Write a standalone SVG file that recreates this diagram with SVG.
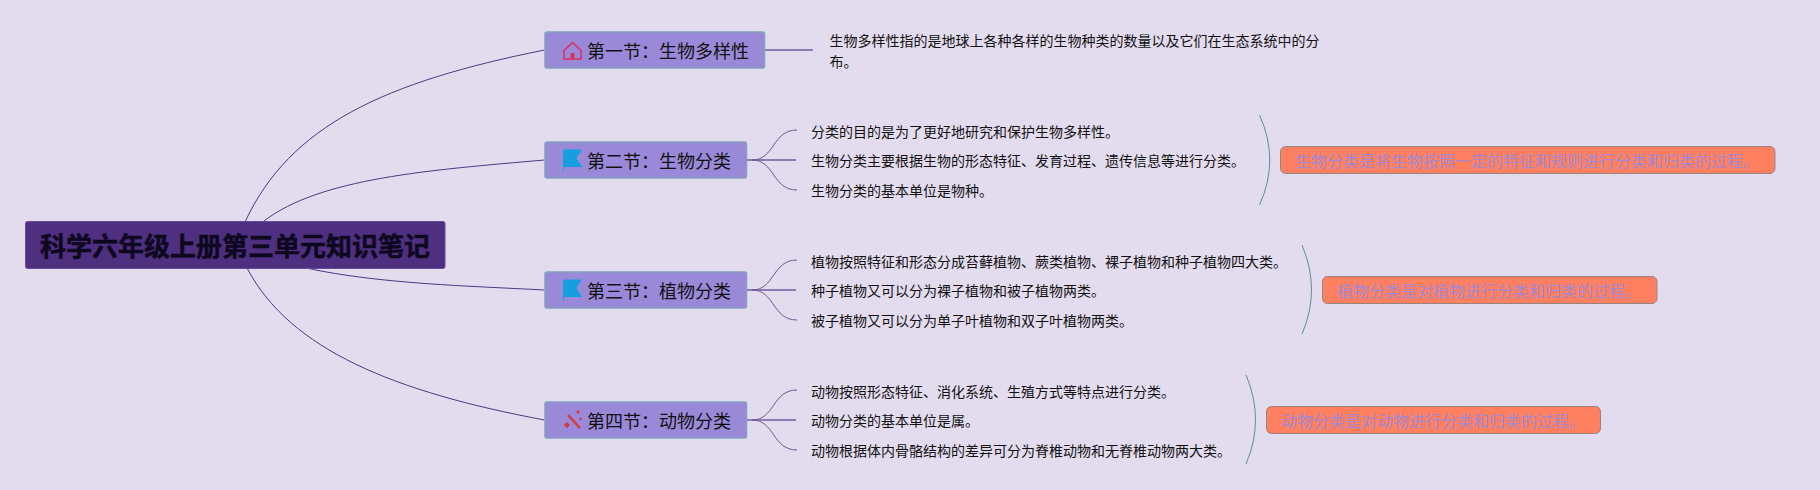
<svg xmlns="http://www.w3.org/2000/svg" width="1820" height="490" viewBox="0 0 1820 490">
<style>
text{font-family:"Noto Sans CJK SC","Noto Sans",sans-serif;fill:#111}
.root{fill:#4f2f80;stroke:#6a4a9a;stroke-width:1}
.sec{fill:#9a89d9;stroke:#86a0bd;stroke-width:1.5}
.sum{fill:#ff8060;stroke:#96857f;stroke-width:1}
.t0{font-size:26px;font-weight:700;fill:#0e0720;stroke:#0e0720;stroke-width:.5}
.t1{font-size:18px}
.t2{font-size:14px}
.t3{font-size:16px;fill:#a188d0}
.c0{fill:none;stroke:#4a3a80;stroke-width:1}
.c1{fill:none;stroke:#6f5a96;stroke-width:1}
.c2{fill:none;stroke:#8f7cb2;stroke-width:2}
.br{fill:none;stroke:#5f8f98;stroke-width:1}
</style>
<rect width="1820" height="490" fill="#e3dbee"/>
<g id="connectors">
<path class="c0" d="M245 222C290 125 385 82 544.500 50"/>
<path class="c0" d="M264 221C320 178 430 170 544.500 160"/>
<path class="c0" d="M306 268C380 284 470 286 544.500 290"/>
<path class="c0" d="M247 268C290 350 395 392 544.500 420"/>
<path class="c2" d="M764.500 50H813"/>
<path class="c2" d="M746.500 160H796"/>
<path class="c1" d="M752 160C775 160 772 130 797 130"/>
<path class="c1" d="M752 160C775 160 772 190 797 190"/>
<path class="c2" d="M746.500 290H796"/>
<path class="c1" d="M752 290C775 290 772 260 797 260"/>
<path class="c1" d="M752 290C775 290 772 320 797 320"/>
<path class="c2" d="M746.500 420H796"/>
<path class="c1" d="M752 420C775 420 772 390 797 390"/>
<path class="c1" d="M752 420C775 420 772 450 797 450"/>
<path class="br" d="M1259.500 115Q1280 160 1259.500 205"/>
<path class="br" d="M1302 245Q1321 290 1302 334"/>
<path class="br" d="M1246 375Q1265 420 1246 464"/>
</g>
<g id="root"><rect class="root" x="25.500" y="221.500" width="419.500" height="47" rx="2"/><text class="t0" x="40" y="256">科学六年级上册第三单元知识笔记</text></g>
<g id="s1"><rect class="sec" x="545" y="32" width="219.500" height="36" rx="2"/>
<path d="M564 50.500L572.500 42.500L581 50.500V59H564Z" fill="none" stroke="#d8305f" stroke-width="1.500"/><rect x="570.500" y="53" width="4" height="6" fill="#d8305f"/>
<text class="t1" x="587" y="57.500">第一节：生物多样性</text></g>
<g id="s2"><rect class="sec" x="545" y="142" width="201.500" height="36" rx="2"/>
<path d="M563 149.500H582L576.500 158L582 167H564V171H563Z" fill="#159fe0"/>
<text class="t1" x="587" y="167.500">第二节：生物分类</text></g>
<g id="s3"><rect class="sec" x="545" y="272" width="201.500" height="36" rx="2"/>
<path d="M563 279.500H582L576.500 288L582 297H564V301H563Z" fill="#159fe0"/>
<text class="t1" x="587" y="297.500">第三节：植物分类</text></g>
<g id="s4"><rect class="sec" x="545" y="402" width="201.500" height="36" rx="2"/>
<path d="M568 415L580 428" stroke="#d63a3a" stroke-width="2.500" fill="none"/><path d="M564 425l3-3 3 3-3 3zM576 412l2-2 2 2-2 2zM579 419l1.500-1.500 1.500 1.500-1.500 1.500z" fill="#d63a3a"/>
<text class="t1" x="587" y="427.500">第四节：动物分类</text></g>
<g id="n1"><text class="t2" x="829.500" y="46">生物多样性指的是地球上各种各样的生物种类的数量以及它们在生态系统中的分</text><text class="t2" x="829.500" y="67">布。</text></g>
<g id="n2a"><text class="t2" x="811" y="136.500">分类的目的是为了更好地研究和保护生物多样性。</text></g>
<g id="n2b"><text class="t2" x="811" y="166">生物分类主要根据生物的形态特征、发育过程、遗传信息等进行分类。</text></g>
<g id="n2c"><text class="t2" x="811" y="196">生物分类的基本单位是物种。</text></g>
<g id="n2s"><rect class="sum" x="1280.500" y="146.500" width="494.500" height="27" rx="5"/><text class="t3" x="1295" y="166.500">生物分类是将生物按照一定的特征和规则进行分类和归类的过程。</text></g>
<g id="n3a"><text class="t2" x="811" y="266.500">植物按照特征和形态分成苔藓植物、蕨类植物、裸子植物和种子植物四大类。</text></g>
<g id="n3b"><text class="t2" x="811" y="296">种子植物又可以分为裸子植物和被子植物两类。</text></g>
<g id="n3c"><text class="t2" x="811" y="326">被子植物又可以分为单子叶植物和双子叶植物两类。</text></g>
<g id="n3s"><rect class="sum" x="1322.500" y="276.500" width="334.500" height="27" rx="5"/><text class="t3" x="1337" y="296.500">植物分类是对植物进行分类和归类的过程。</text></g>
<g id="n4a"><text class="t2" x="811" y="396.500">动物按照形态特征、消化系统、生殖方式等特点进行分类。</text></g>
<g id="n4b"><text class="t2" x="811" y="426">动物分类的基本单位是属。</text></g>
<g id="n4c"><text class="t2" x="811" y="456">动物根据体内骨骼结构的差异可分为脊椎动物和无脊椎动物两大类。</text></g>
<g id="n4s"><rect class="sum" x="1266.500" y="406.500" width="334" height="27" rx="5"/><text class="t3" x="1281" y="426.500">动物分类是对动物进行分类和归类的过程。</text></g>
</svg>
